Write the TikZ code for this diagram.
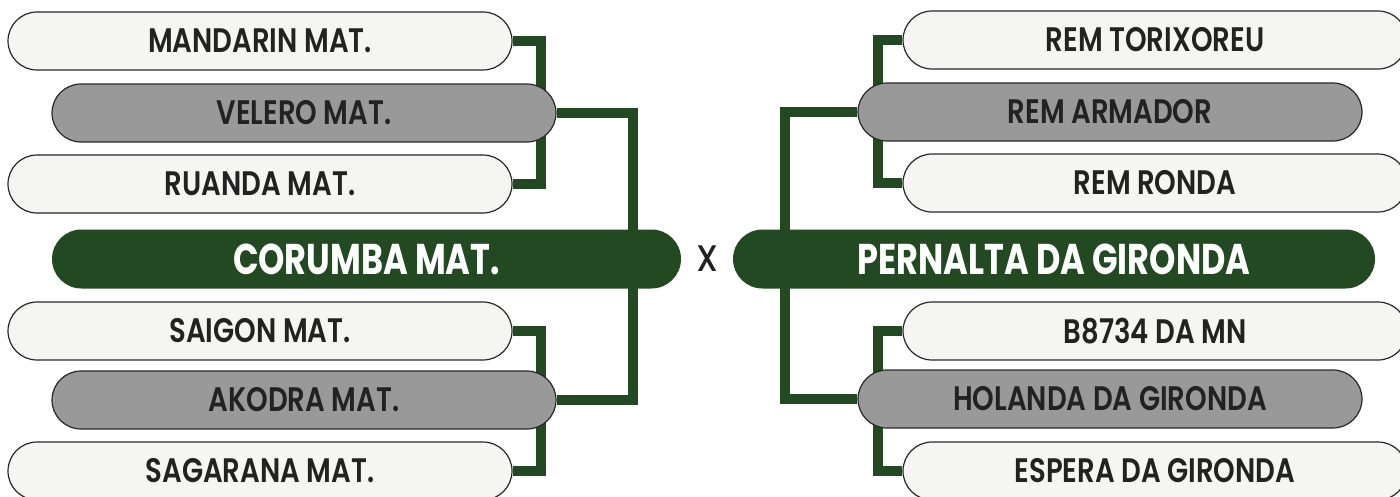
\documentclass[tikz,border=0pt]{standalone}
\usepackage{fontspec}
\setmainfont{Poppins}
\newfontfamily\semib{Poppins SemiBold}
\newfontfamily\medf{Poppins Medium}
\usepackage{graphicx}
\usetikzlibrary{backgrounds}
\definecolor{grn}{RGB}{35,73,34}
\definecolor{wfill}{RGB}{245,245,243}
\definecolor{gfill}{RGB}{153,153,153}
\definecolor{bord}{RGB}{40,40,40}
\definecolor{txt}{RGB}{34,34,34}
\newcommand{\sqz}[1]{\scalebox{0.81}[1]{#1}}
\newcommand{\sqzb}[1]{\scalebox{0.78}[1]{#1}}
\tikzset{
  team/.style={draw=bord, line width=1.2pt, rounded corners=29pt, minimum width=504pt,
    minimum height=58pt, inner sep=0pt, text=txt, font=\fontsize{34}{34}\semib},
  wbox/.style={team, fill=wfill},
  gbox/.style={team, fill=gfill},
  final/.style={fill=grn, rounded corners=29.5pt, minimum height=59pt, inner sep=0pt,
    text=white, font=\fontsize{43}{43}\selectfont\bfseries},
  conn/.style={draw=grn, line width=10pt, line join=miter},
}
\begin{document}
\begin{tikzpicture}[x=1pt,y=-1pt]
\useasboundingbox (0,0) rectangle (1400,496);
% left side
\node[wbox] (mand) at (260,41) {\sqz{MANDARIN MAT.}};
\node[gbox] (vel) at (304,113) {\sqz{VELERO MAT.}};
\node[wbox] (rua) at (260,184) {\sqz{RUANDA MAT.}};
\node[final, minimum width=629pt] (cor) at (366.5,259) {\sqzb{CORUMBA MAT.}};
\node[wbox] (sai) at (260,331) {\sqz{SAIGON MAT.}};
\node[gbox] (ako) at (304,400) {\sqz{AKODRA MAT.}};
\node[wbox] (sag) at (260,471) {\sqz{SAGARANA MAT.}};
% right side
\node[wbox] (tor) at (1155,40) {\sqz{REM TORIXOREU}};
\node[gbox] (arm) at (1110,112) {\sqz{REM ARMADOR}};
\node[wbox] (ron) at (1155,183) {\sqz{REM RONDA}};
\node[final, minimum width=642pt] (per) at (1054,259) {\sqzb{PERNALTA DA GIRONDA}};
\node[wbox] (b87) at (1155,331) {\sqz{B8734 DA MN}};
\node[gbox] (hol) at (1110,399) {\sqz{HOLANDA DA GIRONDA}};
\node[wbox] (esp) at (1155,471) {\sqz{ESPERA DA GIRONDA}};
\node[text=txt, font=\fontsize{37}{37}\medf, inner sep=0pt] (x) at (707,259) {\scalebox{0.9}[1]{X}};
% connectors
\begin{scope}[on background layer]
\draw[conn] (mand.east) -- ++(28,0) |- (rua.east);
\draw[conn] (vel.east) -- ++(76,0) |- (ako.east);
\draw[conn] (sai.east) -- ++(28,0) |- (sag.east);
\draw[conn] (tor.west) -- ++(-24,0) |- (ron.west);
\draw[conn] (arm.west) -- ++(-72,0) |- (hol.west);
\draw[conn] (b87.west) -- ++(-24,0) |- (esp.west);
\end{scope}
\end{tikzpicture}
\end{document}
